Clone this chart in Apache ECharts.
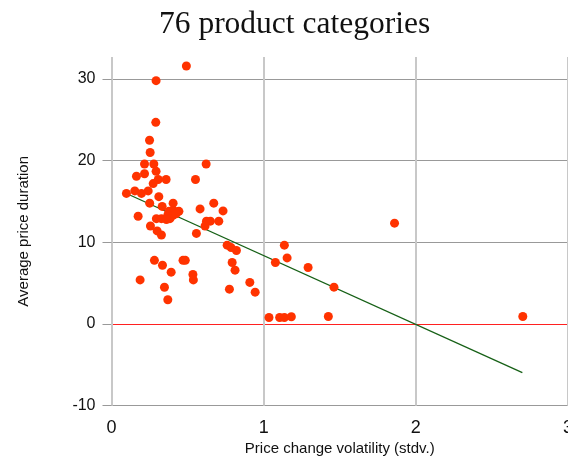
<!DOCTYPE html>
<html>
<head>
<meta charset="utf-8">
<script src="https://cdn.jsdelivr.net/npm/echarts@6/dist/echarts.min.js"></script>
<style>
  html, body { margin: 0; padding: 0; background: #fff; }
  #chart { width: 568px; height: 460px; }
</style>
</head>
<body>
<div id="chart"></div>
<script>
// volatility (x) and average duration (y) for each product category
const volatility = [
  0.492, 0.293, 0.291, 0.250, 0.254, 0.217, 0.278, 0.622, 0.293, 0.164,
  0.217, 0.307, 0.359, 0.552, 0.274, 0.098, 0.153, 0.197, 0.241, 0.311,
  0.251, 0.333, 0.405, 0.582, 0.672, 0.733, 0.175, 0.378, 0.407, 0.443,
  0.371, 0.404, 0.384, 0.295, 0.328, 0.361, 0.424, 0.624, 0.650, 0.705,
  0.615, 0.256, 0.300, 0.328, 0.558, 0.760, 0.786, 0.821, 1.136, 1.154,
  1.077, 1.292, 0.793, 0.812, 1.462, 0.909, 0.944, 0.775, 0.282, 0.335,
  0.392, 0.470, 0.485, 0.535, 0.538, 0.188, 0.348, 0.370, 1.860, 1.035,
  1.105, 1.136, 1.182, 1.425, 2.703
];
const duration = [
  31.6, 29.8, 24.7, 22.5, 21.0, 19.6, 19.6, 19.6, 18.7, 18.1,
  18.4, 17.7, 17.7, 17.7, 17.2, 16.0, 16.3, 16.0, 16.3, 15.6,
  14.8, 14.4, 14.8, 14.1, 14.8, 13.85, 13.2, 13.8, 13.9, 13.8,
  13.4, 13.3, 12.9, 12.9, 12.9, 12.8, 13.5, 12.6, 12.6, 12.6,
  12.0, 12.0, 11.4, 10.9, 11.1, 9.66, 9.36, 9.0, 9.66, 8.1,
  7.53, 6.92, 7.53, 6.6, 4.52, 5.1, 3.9, 4.27, 7.8, 7.2,
  6.35, 7.8, 7.8, 6.06, 5.4, 5.4, 4.5, 2.97, 12.35, 0.8,
  0.8, 0.8, 0.89, 0.92, 0.92
];
// fitted line end points
const fitX = [0.12, 2.70];
const fitY = [15.8, -5.96];

const xTicks = [0, 1, 2, 3];
const yTicks = [-10, 0, 10, 20, 30];

const points = volatility.map((v, i) => [v, duration[i]]);
const fitLine = fitX.map((v, i) => [v, fitY[i]]);

const chart = echarts.init(document.getElementById('chart'), null, { renderer: 'canvas' });
const options = {
  animation: false,
  title: {
    text: '76 product categories',
    left: 154,
    top: 4,
    textStyle: {
      fontFamily: 'Liberation Serif',
      fontSize: 31.5,
      fontWeight: 'normal',
      color: '#111',
    },
  },
  grid: {
    left: 111.5,
    right: 0,
    top: 57,
    bottom: 54.3,
    outerBoundsMode: 'none',
  },
  xAxis: {
    type: 'value',
    min: xTicks[0],
    max: xTicks[xTicks.length - 1],
    interval: 1,
    name: 'Price change volatility (stdv.)',
    nameLocation: 'middle',
    nameGap: 36,
    nameTextStyle: { fontFamily: 'Liberation Sans', fontSize: 15, color: '#111' },
    axisLine: { show: false },
    axisTick: { show: true, length: 9, lineStyle: { color: '#c8c8c8', width: 2 } },
    axisLabel: {
      margin: 13,
      fontFamily: 'Liberation Sans',
      fontSize: 18,
      color: '#111',
    },
    splitLine: { show: true, lineStyle: { color: '#c8c8c8', width: 2 } },
  },
  yAxis: {
    type: 'value',
    min: yTicks[0],
    max: 32.7,
    interval: 10,
    name: 'Average price duration',
    nameLocation: 'middle',
    nameGap: 80,
    nameTextStyle: { fontFamily: 'Liberation Sans', fontSize: 15, color: '#111' },
    axisLine: { show: false },
    axisTick: {
      show: true,
      length: 9,
      customValues: yTicks,
      lineStyle: { color: '#999', width: 1 },
    },
    axisLabel: {
      margin: 16,
      fontFamily: 'Liberation Sans',
      fontSize: 16,
      color: '#111',
      customValues: yTicks,
    },
    splitLine: {
      show: true,
      showMinLine: true,
      showMaxLine: true,
      // the zero line is drawn red
      lineStyle: { color: ['#999', '#ff2020', '#999', '#999', '#999'], width: 1.2 },
    },
  },
  series: [
    {
      name: 'fit',
      type: 'line',
      data: fitLine,
      symbol: 'none',
      lineStyle: { color: '#166016', width: 1.3 },
      z: 2,
    },
    {
      name: 'categories',
      type: 'scatter',
      data: points,
      symbolSize: 9,
      itemStyle: { color: '#ff3300', opacity: 1 },
      z: 3,
    },
  ],
};
chart.setOption(options);
</script>
</body>
</html>
